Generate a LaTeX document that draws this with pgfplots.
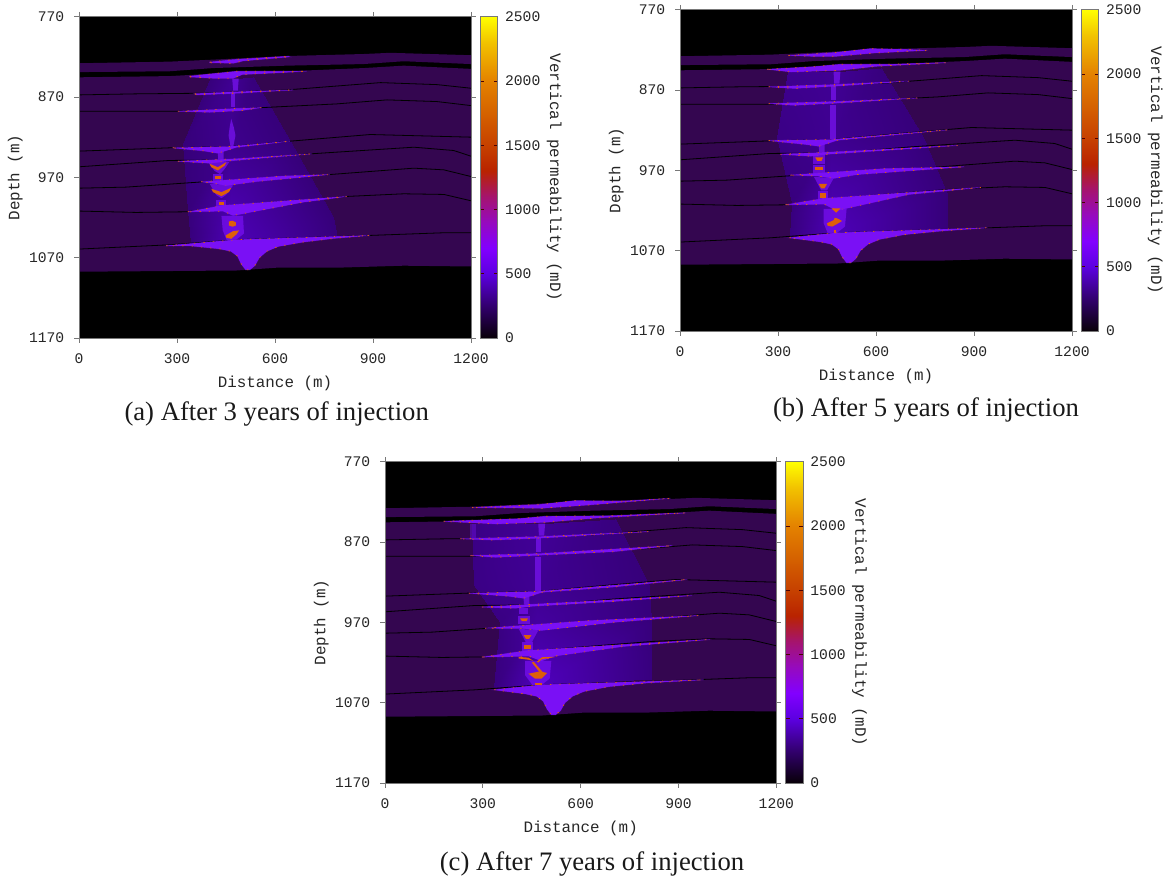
\documentclass[border=0pt]{standalone}
\usepackage{pgfplots}
\usepgfplotslibrary{patchplots}
\pgfplotsset{compat=1.18}
\usepackage{fontspec}
\setmainfont{Liberation Serif}
\setmonofont{Liberation Mono}
\definecolor{basec}{RGB}{52,6,80}
\definecolor{chimc}{RGB}{105,14,215}
\definecolor{wedgec}{RGB}{122,16,245}
\definecolor{orangec}{RGB}{222,95,10}
\definecolor{axc}{RGB}{120,120,120}
\pgfplotsset{
 panel/.style={
  scale only axis, width=294pt, height=241pt,
  xmin=0,xmax=1200,ymin=770,ymax=1170,y dir=reverse,
  xtick={0,300,600,900,1200}, ytick={770,870,970,1070,1170},
  tick align=outside, major tick length=3.5pt,
  axis line style={axc,line width=.7pt}, tick style={axc,line width=.6pt},
  axis background/.style={fill=black}, axis on top,
  tick label style={font=\fontsize{11}{12}\ttfamily,text=black!85},
  /pgf/number format/assume math mode=true,
  /pgf/number format/1000 sep={},
  xticklabel style={yshift=-5pt}, yticklabel style={xshift=-4pt},
  xlabel={Distance (m)}, ylabel={Depth (m)},
  label style={font=\fontsize{11.9}{12}\ttfamily,text=black!85},
  xlabel style={yshift=-2.25pt},
  ylabel style={yshift=-2pt},
  point meta min=0, point meta max=2500,
  colormap={perm}{rgb255(0pt)=(8,0,8); rgb255(25pt)=(50,0,110); rgb255(50pt)=(92,0,225); rgb255(70pt)=(130,0,255);
    rgb255(90pt)=(150,10,190); rgb255(110pt)=(165,20,110); rgb255(130pt)=(185,35,0); rgb255(150pt)=(198,65,0);
    rgb255(200pt)=(228,130,0); rgb255(230pt)=(242,195,0); rgb255(250pt)=(255,255,0)},
  colorbar,
  colorbar style={at={(parent axis.north east)},anchor=north west,xshift=-1.5pt,width=13pt,
    ytick={0,500,1000,1500,2000,2500}, y dir=normal,
    tick align=inside, major tick length=3pt, yticklabel pos=right,
    tick style={black!70!red,line width=.5pt},
    axis line style={axc,line width=.7pt},
    tick label style={font=\fontsize{11}{12}\ttfamily,text=black!85},
    yticklabel style={xshift=2pt},
    ylabel={Vertical permeability (mD)}, ylabel style={rotate=180,font=\fontsize{11.9}{12}\ttfamily,text=black!85,yshift=-2pt},
    /pgf/number format/assume math mode=true,/pgf/number format/1000 sep={}},
 },
 hal/.style={patch,patch type=rectangle,shader=interp,point meta=explicit},
 chim/.style={draw=none,fill=chimc},
 gl/.style={draw=none,fill=wedgec,fill opacity=.7},
 org/.style={draw=none,fill=orangec},
 wed/.style={fill=wedgec,draw=orangec,line width=.55pt,dash pattern=on 1pt off 6pt,
   preaction={draw=wedgec,solid,draw opacity=.25,line width=.9pt}},
 shale/.style={black,line width=.6pt},
}
% geological layers, common to all three panels
\newcommand\layers{%
 \addplot[draw=none,fill=basec] coordinates {(0,828)(277,826)(410,823.5)(636,819)(871,816.5)(953,815)(1200,818)
   (1200,829)(994,825.5)(871,829)(636,831)(410,834)(277,838)(0,839)} -- cycle;
 \addplot[draw=none,fill=basec] coordinates {(0,845.5)(277,844)(410,841)(636,838)(871,834)(994,831)(1200,835)
   (1200,1081)(994,1080)(789,1082.5)(605,1082.5)(482,1086)(0,1087.5)} -- cycle;
}
\newcommand\shales{%
 \addplot[shale] coordinates {(0,867.4)(174,866.1)(379,865.3)(636,861.2)(923,852.1)(1096,854.6)(1200,859.1)};
 \addplot[shale] coordinates {(0,887.7)(298,887.7)(482,884.8)(789,878.6)(943,873.6)(1096,875.7)(1200,880.7)};
 \addplot[shale] coordinates {(0,937.4)(277,933.3)(462,931.7)(646,925)(892,916.7)(1200,920)};
 \addplot[shale] coordinates {(0,956.9)(277,949)(482,948.2)(707,940.8)(1025,932.5)(1147,936.6)(1200,943.7)};
 \addplot[shale] coordinates {(0,983.5)(144,982.2)(380,975.6)(769,966.5)(1025,958.6)(1117,960.7)(1200,969)};
 \addplot[shale] coordinates {(0,1012)(175,1013.7)(329,1012.9)(462,1005)(820,993.8)(994,990.5)(1117,991.3)(1200,999.2)};
 \addplot[shale] coordinates {(0,1059.3)(277,1054)(482,1047.7)(892,1042.3)(1117,1039)(1200,1039)};
}
\begin{document}
\begin{tikzpicture}
\useasboundingbox (0,0) rectangle (882pt,663pt);
% ---------- (a)
\begin{axis}[panel,at={(59.25pt,409.5pt)},anchor=south west]
\layers
\addplot[hal] table[meta=c] {
x y c
400 847.5 280
472 847 330
462 930 320
318 928 275
472 847 330
533 845.5 280
645 925 275
462 930 320
318 928 275
462 930 320
465 1012 390
334 1011 280
462 930 320
645 925 275
778 1019.5 275
465 1012 390
334 1011 280
465 1012 390
470 1048 410
344 1052 285
465 1012 390
778 1019.5 275
789 1044 280
470 1048 410
};
\shales
\addplot[chim] coordinates {(469,847)(489,847)(486,862)(472,862)} -- cycle;
\addplot[chim] coordinates {(466,865)(479,865)(479,883)(466,883)} -- cycle;
\addplot[chim] coordinates {(466,897)(474,908)(479,918)(472,932)(464,932)(458,918)(461,908)} -- cycle;
\addplot[chim] coordinates {(425,939)(443,936)(443,948)(426,948)} -- cycle;
\addplot[wed] coordinates {(400,826.6)(472,823.5)(641,819.3)(645,820)(503,825)(472,828)(400,827.2)} -- cycle;
\addplot[wed] coordinates {(339,844.2)(410,841)(482,838)(697,838)(500,842)(472,846.7)(410,846.7)(339,845)} -- cycle;
\addplot[wed] coordinates {(354,866)(472,863.7)(656,861.2)(472,865.5)(360,867.3)} -- cycle;
\addplot[wed] coordinates {(303,887.7)(482,884.3)(559,883.2)(500,886.7)(400,889)} -- cycle;
\addplot[wed] coordinates {(287,933.3)(462,931.7)(646,925)(482,932.5)(425,940)(380,937)} -- cycle;
\addplot[wed] coordinates {(303,950)(482,947)(712,940.8)(451,949.9)(400,952.4)} -- cycle;
\addplot[wed] coordinates {(374,975.6)(625,968.5)(768,966.5)(543,975.2)(451,980.2)(410,977.3)} -- cycle;
\addplot[wed] coordinates {(333,1012.9)(441,1005)(819,993.8)(686,1000.9)(472,1017.5)(441,1012)} -- cycle;
\addplot[wed] coordinates {(267,1055.2)(482,1047.7)(891,1042.3)(780,1046)(686,1050.6)(610,1056)(575,1062)(552,1070)(538,1080)(523,1085)(510,1085)(497,1078)(485,1068)(465,1062)(430,1059)(339,1055.2)} -- cycle;
\addplot[gl] coordinates {(395,951)(460,951)(445,960)(432,966)(415,962)} -- cycle;
\addplot[org] coordinates {(400,953.2)(425,957.4)(451,951.1)(446,955.2)(425,961.5)(405,957.4)} -- cycle;
\addplot[gl] coordinates {(410,966)(441,966)(441,975)(410,975)} -- cycle;
\addplot[org] coordinates {(415,968.5)(436,968.5)(436,972.7)(415,972.7)} -- cycle;
\addplot[gl] coordinates {(400,978)(472,980)(450,992)(436,996)(420,992)} -- cycle;
\addplot[org] coordinates {(405,984.3)(436,988.4)(466,983.1)(459,988.4)(436,993.4)(410,988.4)} -- cycle;
\addplot[gl] coordinates {(420,998)(450,998)(450,1009)(420,1009)} -- cycle;
\addplot[org] coordinates {(429,1001)(443,1001)(443,1005)(429,1005)} -- cycle;
\addplot[gl] coordinates {(436,1018)(502,1018)(505,1040)(480,1048)(452,1048)(440,1036)} -- cycle;
\addplot[org] coordinates {(459,1025)(470,1024)(480,1026)(480,1030)(470,1031.5)(459,1030)} -- cycle;
\addplot[org] coordinates {(449,1042.3)(472,1036.9)(490,1036.1)(482,1041)(466,1046.5)(451,1045.2)} -- cycle;
\end{axis}
% ---------- (b)
\begin{axis}[panel,at={(510pt,414.75pt)},anchor=south west]
\layers
\addplot[hal] table[meta=c] {
x y c
332 847.5 320
472 847 335
462 930 325
297 928 300
472 847 335
614 843 285
745 928 275
462 930 325
297 928 300
462 930 325
465 1012 390
343 1011 285
462 930 325
745 928 275
818 1000 275
465 1012 390
343 1011 285
465 1012 390
470 1048 410
337 1052 285
465 1012 390
818 1000 275
818 1042 275
470 1048 410
};
\shales
\addplot[chim] coordinates {(470,847)(491,847)(488,862)(472,862)} -- cycle;
\addplot[chim] coordinates {(462,865)(478,865)(478,883)(462,883)} -- cycle;
\addplot[chim] coordinates {(460,889)(478,889)(478,931)(460,931)} -- cycle;
\addplot[chim] coordinates {(425,939)(443,936)(443,948)(426,948)} -- cycle;
\addplot[wed] coordinates {(332,827)(472,823.5)(583,818.5)(675,819.3)(757,820.6)(590,824)(480,828)(400,828)} -- cycle;
\addplot[wed] coordinates {(267,844.2)(410,841)(490,838)(650,838)(814,836)(600,840.5)(490,845.5)(340,847.5)} -- cycle;
\addplot[wed] coordinates {(271,866)(472,863.3)(701,859)(480,865)(350,868)} -- cycle;
\addplot[wed] coordinates {(271,887)(482,884.3)(727,880)(490,886)(350,889)} -- cycle;
\addplot[wed] coordinates {(271,933)(462,931.7)(819,919.6)(482,932.5)(425,940)(380,937.5)} -- cycle;
\addplot[wed] coordinates {(307,950)(482,947)(850,939)(451,949.9)(400,952.4)} -- cycle;
\addplot[wed] coordinates {(338,976)(625,968)(870,965.6)(543,975.2)(470,980)(420,977)} -- cycle;
\addplot[wed] coordinates {(323,1012.9)(441,1005)(921,991.3)(700,1000)(480,1020)(441,1012)} -- cycle;
\addplot[wed] coordinates {(335,1054)(482,1047.7)(941,1041.5)(800,1045.5)(686,1050)(610,1056)(575,1062)(552,1070)(538,1080)(523,1085)(510,1085)(497,1078)(485,1068)(465,1062)(430,1059)} -- cycle;
\addplot[gl] coordinates {(408,950)(445,950)(445,962)(408,962)} -- cycle;
\addplot[org] coordinates {(414,954)(438,954)(433,958.2)(420,958.2)} -- cycle;
\addplot[gl] coordinates {(408,963)(445,963)(445,974)(408,974)} -- cycle;
\addplot[org] coordinates {(414,966)(438,966)(438,970)(414,970)} -- cycle;
\addplot[gl] coordinates {(410,978)(470,980)(450,995)(432,995)} -- cycle;
\addplot[org] coordinates {(425,987)(450,987)(442,992.6)(432,992.6)} -- cycle;
\addplot[gl] coordinates {(422,996)(452,996)(452,1007)(422,1007)} -- cycle;
\addplot[org] coordinates {(428,998.4)(446,998.4)(446,1004)(428,1004)} -- cycle;
\addplot[gl] coordinates {(440,1018)(510,1018)(505,1040)(480,1048)(452,1048)(440,1036)} -- cycle;
\addplot[org] coordinates {(464,1017.5)(491,1017.5)(478,1022.8)} -- cycle;
\addplot[org] coordinates {(450,1036)(470,1032)(474,1029)(482,1030)(496,1033)(480,1037)(466,1040)(452,1039)} -- cycle;
\addplot[org] coordinates {(471,1044.4)(479,1044.4)(479,1047.7)(471,1047.7)} -- cycle;
\end{axis}
% ---------- (c)
\begin{axis}[panel,at={(288.75pt,75.75pt)},anchor=south west,width=293.5pt]
\layers
\addplot[hal] table[meta=c] {
x y c
267 847.5 300
472 847 340
462 925 330
272 924 300
472 847 340
706 841 285
808 924 275
462 925 330
272 924 300
462 925 330
465 970 355
353 970 295
462 925 330
808 924 275
815 970 280
465 970 355
353 970 295
465 970 355
470 1048 420
333 1052 285
465 970 355
815 970 280
818 1040 285
470 1048 420
};
\shales
\addplot[chim] coordinates {(470,847)(491,847)(488,862)(472,862)} -- cycle;
\addplot[chim,fill opacity=.5] coordinates {(262,847)(279,847)(279,865)(262,865)} -- cycle;
\addplot[chim] coordinates {(462,865)(478,865)(478,883)(462,883)} -- cycle;
\addplot[chim] coordinates {(460,889)(478,889)(478,931)(460,931)} -- cycle;
\addplot[chim] coordinates {(425,939)(443,936)(443,948)(426,948)} -- cycle;
\addplot[wed] coordinates {(267,827)(472,823.5)(583,818.5)(730,819.3)(875,815.6)(620,824)(480,828)(400,827.5)} -- cycle;
\addplot[wed] coordinates {(180,844.2)(410,841)(490,838)(680,837.5)(921,833.8)(650,840)(490,845.5)(340,847.5)} -- cycle;
\addplot[wed] coordinates {(231,866)(472,863.3)(809,857)(480,865)(330,867.5)} -- cycle;
\addplot[wed] coordinates {(262,887)(482,884.3)(881,874.5)(700,882)(490,886)(340,889)} -- cycle;
\addplot[wed] coordinates {(257,933.7)(462,931.7)(927,916.7)(700,926)(482,932.5)(425,940)(380,937.5)} -- cycle;
\addplot[wed] coordinates {(297,951)(482,947)(942,936.6)(700,944)(451,949.9)(400,952.4)} -- cycle;
\addplot[wed] coordinates {(307,977.3)(625,968)(962,961.5)(700,970)(480,980)(420,977.5)} -- cycle;
\addplot[wed] coordinates {(297,1013.3)(441,1005)(997,991.3)(730,1000)(520,1012)(480,1018)(441,1012)} -- cycle;
\addplot[wed] coordinates {(335,1054)(482,1047.7)(977,1041.5)(800,1045.5)(686,1050)(610,1056)(575,1062)(552,1070)(538,1080)(523,1085)(510,1085)(497,1078)(485,1068)(465,1062)(430,1059)} -- cycle;
\addplot[gl] coordinates {(410,952)(440,952)(440,960)(410,960)} -- cycle;
\addplot[gl] coordinates {(408,962)(445,962)(445,972)(408,972)} -- cycle;
\addplot[org] coordinates {(414,965)(438,965)(434,968.5)(420,968.5)} -- cycle;
\addplot[gl] coordinates {(410,978)(470,980)(450,995)(432,995)} -- cycle;
\addplot[org] coordinates {(425,986)(449,986)(442,990.5)(432,990.5)} -- cycle;
\addplot[gl] coordinates {(420,995)(455,995)(455,1007)(420,1007)} -- cycle;
\addplot[org] coordinates {(427,998)(448,998)(448,1003)(427,1003)} -- cycle;
\addplot[gl] coordinates {(430,1018)(510,1018)(505,1040)(480,1048)(452,1048)(430,1036)} -- cycle;
\addplot[org] coordinates {(410,1013)(440,1014)(455,1018)(440,1016.5)(410,1015)} -- cycle;
\addplot[org] coordinates {(466,1019)(481,1013.5)(527,1012.8)(481,1015.8)(470,1020)} -- cycle;
\addplot[org] coordinates {(450,1020)(456,1019)(490,1035)(484,1037)} -- cycle;
\addplot[org] coordinates {(440,1034)(475,1031)(497,1033)(480,1040)(460,1040)} -- cycle;
\addplot[org] coordinates {(459,1045.6)(480,1045.6)(480,1048.5)(459,1048.5)} -- cycle;
\end{axis}
% ---------- captions
\node[font=\fontsize{20}{22}\selectfont,text=black!90] at (207.5pt,352.5pt) {(a) After 3 years of injection};
\node[font=\fontsize{20}{22}\selectfont,text=black!90] at (694.5pt,355.5pt) {(b) After 5 years of injection};
\node[font=\fontsize{20}{22}\selectfont,text=black!90] at (444pt,15pt) {(c) After 7 years of injection};
\end{tikzpicture}
\end{document}
